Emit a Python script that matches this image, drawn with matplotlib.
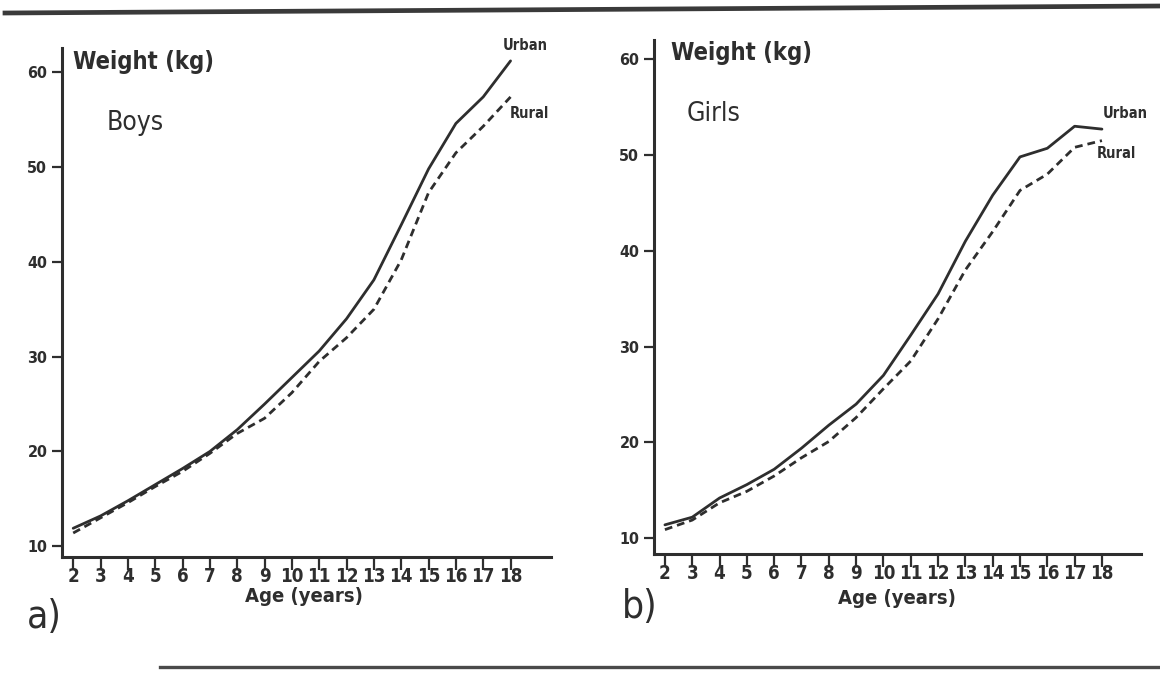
import matplotlib
matplotlib.use("Agg")
import matplotlib.pyplot as plt
from matplotlib import font_manager as fm
from matplotlib.lines import Line2D

# ---------------- data ----------------
ages = [2, 3, 4, 5, 6, 7, 8, 9, 10, 11, 12, 13, 14, 15, 16, 17, 18]
boys_urban = [11.9, 13.2, 14.8, 16.5, 18.2, 20.0, 22.3, 25.0, 27.8, 30.6, 34.0, 38.1, 43.9, 49.8, 54.6, 57.4, 61.2]
boys_rural = [11.4, 13.0, 14.6, 16.3, 17.9, 19.8, 21.9, 23.5, 26.2, 29.5, 32.0, 35.0, 40.2, 47.3, 51.5, 54.3, 57.4]
girls_urban = [11.4, 12.2, 14.2, 15.6, 17.2, 19.4, 21.8, 24.0, 27.0, 31.2, 35.5, 41.0, 45.8, 49.8, 50.7, 53.0, 52.7]
girls_rural = [10.9, 11.9, 13.7, 14.9, 16.5, 18.4, 20.1, 22.6, 25.6, 28.5, 32.9, 38.0, 42.0, 46.3, 48.0, 50.8, 51.5]
y_ticks = [10, 20, 30, 40, 50, 60]
x_tick_labels = [str(a) for a in ages]
panel_titles = ["Boys", "Girls"]
panel_letters = ["a)", "b)"]

# ---------------- fonts ----------------
names = {f.name for f in fm.fontManager.ttflist}
if "Liberation Sans Narrow" in names:
    FAM, STRETCH = "Liberation Sans Narrow", "normal"
else:
    cond = any(f.name == "DejaVu Sans" and f.stretch == "condensed" for f in fm.fontManager.ttflist)
    if cond:
        FAM, STRETCH = "DejaVu Sans", "condensed"
    else:
        FAM, STRETCH = "DejaVu Sans Mono", "normal"

INK = "#2e2e2e"
W, H = 1160, 674
fig = plt.figure(figsize=(W / 100, H / 100), dpi=100)
fig.patch.set_facecolor("white")


def px_rect(x0, y0, x1, y1):
    return [x0 / W, 1 - y1 / H, (x1 - x0) / W, (y1 - y0) / H]


def ftext(x, y, s, size, weight="bold", ha="left", va="center"):
    fig.text(x / W, 1 - y / H, s, fontsize=size, fontweight=weight, ha=ha, va=va,
             family=FAM, fontstretch=STRETCH, color=INK)


panels = [
    dict(rect=px_rect(62, 48, 551, 557), xlim=(1.59, 19.48), ylim=(8.87, 62.56),
         urban=boys_urban, rural=boys_rural),
    dict(rect=px_rect(654, 40, 1141, 553.5), xlim=(1.60, 19.43), ylim=(8.41, 62.0),
         urban=girls_urban, rural=girls_rural),
]

axes = []
for p in panels:
    ax = fig.add_axes(p["rect"])
    ax.set_xlim(*p["xlim"])
    ax.set_ylim(*p["ylim"])
    ax.plot(ages, p["urban"], color=INK, lw=2.0, solid_capstyle="round")
    ax.plot(ages, p["rural"], color=INK, lw=2.0, dashes=(2.8, 1.8))
    for s in ("top", "right"):
        ax.spines[s].set_visible(False)
    for s in ("left", "bottom"):
        ax.spines[s].set_linewidth(2.2)
        ax.spines[s].set_color(INK)
    ax.set_xticks(ages)
    ax.set_xticklabels(x_tick_labels)
    ax.set_yticks(y_ticks)
    ax.set_yticklabels([str(v) for v in y_ticks])
    ax.tick_params(axis="x", direction="out", length=9.5, width=1.6, color=INK, pad=-2,
                   labelsize=13.5, labelcolor=INK)
    ax.tick_params(axis="y", direction="out", length=7.5, width=1.6, color=INK, pad=3,
                   labelsize=11.5, labelcolor=INK)
    for lab in ax.get_xticklabels() + ax.get_yticklabels():
        lab.set_family(FAM)
        lab.set_fontstretch(STRETCH)
        lab.set_fontweight("bold")
    ax.set_facecolor("none")
    axes.append(ax)

# in-plot texts (pixel positions of the reference)
ftext(73, 62, "Weight (kg)", 17)
ftext(671, 53, "Weight (kg)", 17)
ftext(107, 123, panel_titles[0], 19, weight="normal")
ftext(687, 114, panel_titles[1], 19, weight="normal")
ftext(503, 45, "Urban", 10.5)
ftext(510, 113, "Rural", 10.5)
ftext(1103, 114, "Urban", 10.5)
ftext(1097, 154, "Rural", 10.5)
ftext(304, 597, "Age (years)", 14.5, ha="center")
ftext(897, 599, "Age (years)", 14.5, ha="center")
ftext(27, 617, panel_letters[0], 28, weight="normal")
ftext(622, 607, panel_letters[1], 28, weight="normal")

# page rules of the scanned figure
fig.add_artist(Line2D([5 / W, 1.0], [1 - 13 / H, 1 - 6 / H], transform=fig.transFigure,
                      color="#3a3a3a", lw=3.4))
fig.add_artist(Line2D([160 / W, 1.0], [1 - 667 / H, 1 - 667 / H], transform=fig.transFigure,
                      color="#4a4a4a", lw=2.4))

fig.savefig("out.png", dpi=100, facecolor="white")
